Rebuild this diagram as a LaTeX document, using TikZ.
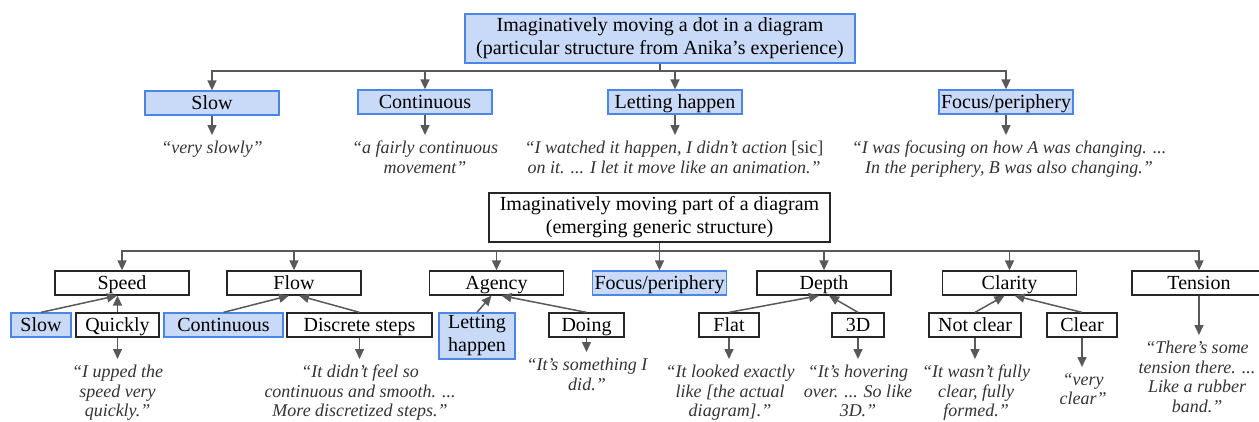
\documentclass[tikz,border=0pt]{standalone}
\usepackage{fontspec}
\setmainfont{Liberation Serif}
\usepackage{xcolor}
\usetikzlibrary{arrows.meta}
\definecolor{boxblue}{HTML}{C9DAF8}
\definecolor{edgeblue}{HTML}{4A86E8}
\definecolor{linegray}{HTML}{595959}
\tikzset{
    cat-box/.style = {draw=black!85, line width=1.3pt, rectangle, inner sep=0pt, minimum width=134pt, minimum height=24pt, text height=16pt, text depth=4pt, font=\fontsize{20}{23}\selectfont},
    blue-box/.style = {cat-box, draw=edgeblue, fill=boxblue},
    sub-box/.style = {cat-box, minimum width=#1},
    blue-sub-box/.style = {blue-box, minimum width=#1},
    two-lines/.style = {align=center, text height=, text depth=},
    quote-text/.style = {anchor=north, align=center, inner sep=0pt, text=black!80, font=\fontsize{18}{19.5}\selectfont\itshape},
    plain-line/.style = {draw=linegray, line width=1.5pt},
    arrow-line/.style = {plain-line, -{Triangle[length=10pt,width=9pt]}},
}

\begin{document}
\begin{tikzpicture}[x=1pt, y=-1pt]
\useasboundingbox (0,0) rectangle (1259,421);

% particular structure (top)
\node[blue-box, two-lines, minimum width=390pt, minimum height=49pt] (dot) at (660,38.5) {Imaginatively moving a dot in a diagram\\(particular structure from Anika's experience)};
\coordinate (dot-bus) at (660,71);
\node[blue-box] (d-slow) at (212,103) {Slow};
\node[blue-box] (d-cont) at (425,102) {Continuous};
\node[blue-box] (d-let) at (675,102) {Letting happen};
\node[blue-box] (d-focus) at (1006,102) {Focus/periphery};

\node[quote-text] (q-slow) at (212,141) {``very slowly''};
\node[quote-text] (q-cont) at (425,141) {``a fairly continuous\\movement''};
\node[quote-text] (q-let) at (674,141) {``I watched it happen, I didn't action {\upshape [sic]}\\on it. ... I let it move like an animation.''};
\node[quote-text] (q-focus) at (1009,141) {``I was focusing on how A was changing. ...\\In the periphery, B was also changing.''};

\draw[plain-line] (dot.south) -- (dot-bus);
\draw[arrow-line] (dot-bus) -| (d-slow.north);
\draw[arrow-line] (dot-bus) -| (d-cont.north);
\draw[arrow-line] (dot-bus) -| (d-let.north);
\draw[arrow-line] (dot-bus) -| (d-focus.north);
\draw[arrow-line, shorten >=6pt] (d-slow.south) -- (d-slow.south |- q-slow.north);
\draw[arrow-line, shorten >=6pt] (d-cont.south) -- (d-cont.south |- q-cont.north);
\draw[arrow-line, shorten >=6pt] (d-let.south) -- (d-let.south |- q-let.north);
\draw[arrow-line, shorten >=6pt] (d-focus.south) -- (d-focus.south |- q-focus.north);

% generic structure (bottom)
\node[cat-box, two-lines, minimum width=341pt, minimum height=49pt] (part) at (659.5,217.5) {Imaginatively moving part of a diagram\\(emerging generic structure)};
\coordinate (part-bus) at (659.5,251);
\node[cat-box] (speed) at (122,283) {Speed};
\node[cat-box] (flow) at (294,283) {Flow};
\node[cat-box] (agency) at (496.5,283) {Agency};
\node[blue-box] (focus) at (659.5,283) {Focus/periphery};
\node[cat-box] (depth) at (824,283) {Depth};
\node[cat-box] (clarity) at (1009.5,283) {Clarity};
\node[cat-box] (tension) at (1199,283) {Tension};

\node[blue-sub-box=60pt] (slow) at (41,325) {Slow};
\node[sub-box=83pt] (quickly) at (117.5,325) {Quickly};
\node[blue-sub-box=119pt] (cont) at (223.5,325) {Continuous};
\node[sub-box=145pt] (discrete) at (359.5,325) {Discrete steps};
\node[blue-sub-box=76pt, two-lines, minimum height=46pt] (letting) at (477,336) {Letting\\happen};
\node[sub-box=75pt] (doing) at (586.5,325) {Doing};
\node[sub-box=60pt] (flat) at (729,325) {Flat};
\node[sub-box=52pt] (threed) at (858,325) {3D};
\node[sub-box=92pt] (notclear) at (975,325) {Not clear};
\node[sub-box=70pt] (clear) at (1082,325) {Clear};

\node[quote-text] (q-quickly) at (117.5,365) {``I upped the\\speed very\\quickly.''};
\node[quote-text] (q-discrete) at (360,365) {``It didn't feel so\\continuous and smooth. ...\\More discretized steps.''};
\node[quote-text] (q-doing) at (587,358) {``It's something I\\did.''};
\node[quote-text] (q-flat) at (730,365) {``It looked exactly\\like [the actual\\diagram].''};
\node[quote-text] (q-threed) at (858,365) {``It's hovering\\over. ... So like\\3D."};
\node[quote-text] (q-notclear) at (976,365) {``It wasn't fully\\clear, fully\\formed.''};
\node[quote-text] (q-clear) at (1083,373) {``very\\clear''};
\node[quote-text] (q-tension) at (1197,341) {``There's some\\tension there. ...\\Like a rubber\\band.''};

\draw[plain-line] (part.south) -- (part-bus);
\draw[arrow-line] (part-bus) -| (speed.north);
\draw[arrow-line] (part-bus) -| (flow.north);
\draw[arrow-line] (part-bus) -| (agency.north);
\draw[arrow-line] (part-bus) -| (focus.north);
\draw[arrow-line] (part-bus) -| (depth.north);
\draw[arrow-line] (part-bus) -| (clarity.north);
\draw[arrow-line] (part-bus) -| (tension.north);

\draw[arrow-line] (slow.north) -- ([xshift=-5pt]speed.south);
\draw[arrow-line] (quickly.north) -- (quickly.north |- speed.south);
\draw[arrow-line] (cont.north) -- ([xshift=-5pt]flow.south);
\draw[arrow-line] (discrete.north) -- ([xshift=5pt]flow.south);
\draw[arrow-line] (letting.north) -- ([xshift=-5pt]agency.south);
\draw[arrow-line] (doing.north) -- ([xshift=5pt]agency.south);
\draw[arrow-line] (flat.north) -- ([xshift=-5pt]depth.south);
\draw[arrow-line] (threed.north) -- ([xshift=5pt]depth.south);
\draw[arrow-line] (notclear.north) -- ([xshift=-5pt]clarity.south);
\draw[arrow-line] (clear.north) -- ([xshift=5pt]clarity.south);

\draw[arrow-line, shorten >=6pt] (quickly.south) -- (quickly.south |- q-quickly.north);
\draw[arrow-line, shorten >=6pt] (discrete.south) -- (discrete.south |- q-discrete.north);
\draw[arrow-line, shorten >=6pt] (doing.south) -- (doing.south |- q-doing.north);
\draw[arrow-line, shorten >=6pt] (flat.south) -- (flat.south |- q-flat.north);
\draw[arrow-line, shorten >=6pt] (threed.south) -- (threed.south |- q-threed.north);
\draw[arrow-line, shorten >=6pt] (notclear.south) -- (notclear.south |- q-notclear.north);
\draw[arrow-line, shorten >=6pt] (clear.south) -- (clear.south |- q-clear.north);
\draw[arrow-line, shorten >=6pt] (tension.south) -- (tension.south |- q-tension.north);
\end{tikzpicture}
\end{document}
